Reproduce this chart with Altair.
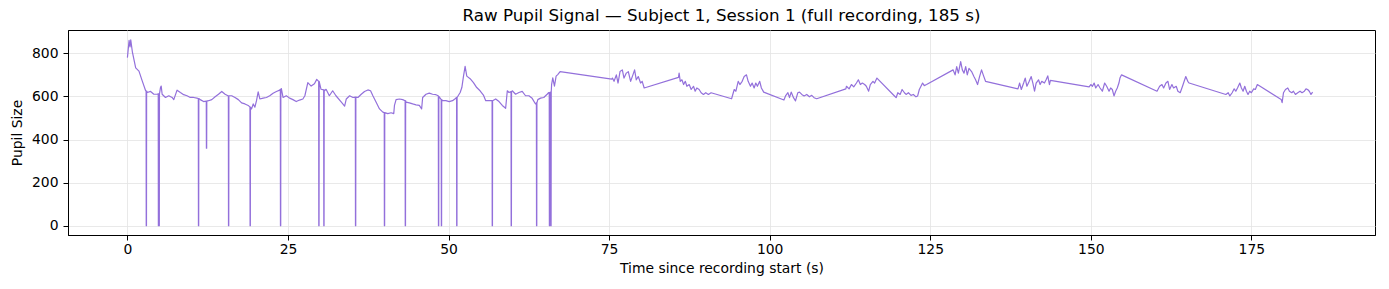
import altair as alt
import pandas as pd

# continuous trace (time in s, pupil size)
trace_t = [
    0.00, 0.26, 0.41, 0.52, 0.77, 1.29, 1.80, 2.32, 2.84, 3.09, 3.61, 4.12, 4.64,
    5.15, 5.26, 5.41, 5.93, 6.44, 6.96, 7.22, 7.73, 8.25, 8.76, 9.28, 9.79, 10.31,
    10.82, 11.34, 11.86, 12.63, 13.14, 13.66, 14.18, 14.69, 15.21, 15.65, 16.24,
    16.75, 17.27, 17.78, 18.30, 18.81, 19.33, 19.59, 19.85, 20.10, 20.36, 20.62,
    21.13, 21.65, 22.16, 22.68, 23.20, 23.71, 23.97, 24.23, 24.74, 25.26, 25.77,
    26.29, 26.80, 27.32, 27.63, 28.09, 28.61, 29.12, 29.48, 29.90, 30.15, 30.67,
    30.93, 31.44, 31.96, 32.47, 33.31, 33.82, 34.08, 34.60, 35.12, 35.89, 36.41,
    36.92, 37.44, 37.86, 38.22, 38.73, 39.25, 39.77, 40.54, 41.06, 41.47, 41.58,
    41.83, 42.35, 42.87, 43.39, 43.90, 44.42, 44.94, 45.45, 45.81, 45.97, 46.49,
    47.00, 47.52, 48.04, 48.40, 49.07, 49.59, 50.10, 50.62, 50.98, 51.50, 51.81,
    52.07, 52.33, 52.58, 52.84, 53.36, 53.88, 54.39, 54.91, 55.43, 55.79, 56.30,
    57.34, 57.86, 58.37, 58.89, 59.15, 59.41, 59.92, 60.44, 60.96, 61.47, 61.99,
    62.51, 63.02, 63.54, 63.90, 64.32, 64.83, 65.35, 65.61, 66.05, 66.23, 66.49,
    66.75, 67.00, 67.37,
    75.41, 75.52, 75.77, 76.13, 76.39, 76.70, 77.06, 77.32, 77.68, 77.99, 78.35,
    78.71, 78.97, 79.23, 79.54, 79.90, 80.15, 80.46,
    85.80, 85.90, 86.08, 86.34, 86.60, 86.86, 87.11, 87.47, 87.78, 88.14, 88.40,
    88.66, 89.02, 89.33, 89.69, 90.05, 90.46, 90.88,
    94.07, 94.48, 94.74, 95.10, 95.36, 95.72, 96.03, 96.39, 96.65, 97.01, 97.27,
    97.58, 97.84, 98.09, 98.45, 98.71, 99.07,
    102.22, 102.47, 102.84, 103.09, 103.35, 103.71, 104.02, 104.38, 104.64, 105.00,
    105.36, 105.77, 106.19, 106.55, 106.91, 107.32,
    111.86, 111.96, 112.37, 112.73, 113.09, 113.51, 113.81, 114.12, 114.43, 114.79,
    115.05, 115.41, 115.67, 116.08, 116.34, 116.70,
    119.43, 119.69, 119.95, 120.31, 120.62, 120.98, 121.24, 121.60, 122.01, 122.37,
    122.78, 123.04, 123.30, 123.56, 123.81, 124.07, 124.43,
    128.56, 128.87, 129.12, 129.38, 129.74, 130.00, 130.26, 130.52, 130.77, 131.03,
    131.44, 131.80, 132.06, 132.37, 132.68, 132.99, 133.25, 133.61,
    138.66, 138.92, 139.18, 139.54, 139.79, 140.05, 140.41, 140.72, 140.98, 141.24,
    141.49, 141.86, 142.11, 142.37, 142.78, 143.04, 143.30, 143.56, 143.71,
    149.74, 150.00, 150.26, 150.52, 150.77, 151.13, 151.44, 151.80, 152.16, 152.47,
    152.84, 153.09, 153.35, 153.61, 153.87, 154.12, 154.38, 154.54, 154.79,
    160.31, 160.72, 161.08, 161.34, 161.70, 162.01, 162.27, 162.63, 162.89, 163.30,
    163.56, 163.92, 164.28, 164.54, 164.79, 165.10, 165.31,
    171.03, 171.39, 171.65, 172.01, 172.32, 172.58, 172.84, 173.20, 173.45, 173.71,
    173.97, 174.23, 174.48, 174.74, 175.00, 175.36, 175.62, 175.93,
    179.64, 179.79, 180.00, 180.31, 180.67, 180.93, 181.29, 181.55, 181.86, 182.22,
    182.58, 182.89, 183.25, 183.51, 183.76, 184.02, 184.28, 184.54,
]
trace_v = [
    780, 860, 830, 862, 807, 732, 717, 671, 626, 618, 623, 610, 610,
    641, 648, 610, 595, 603, 595, 585, 629, 618, 608, 603, 595, 595,
    592, 585, 576, 580, 585, 598, 610, 623, 610, 603, 603,
    595, 585, 570, 565, 558, 542, 565, 550, 580, 621, 588,
    592, 595, 603, 615, 623, 629, 636, 595, 603, 592, 585,
    576, 583, 588, 603, 664, 648, 659, 679, 664, 633, 626,
    633, 603, 626, 603, 573, 555, 588, 603, 595, 595, 610,
    623, 630, 626, 603, 573, 542, 527, 520, 524, 520, 558,
    585, 588, 585, 573, 570, 565, 561, 558, 542, 595, 610,
    615, 610, 608, 603, 580, 580, 576, 580, 588, 603, 618,
    641, 694, 739, 694, 682, 664, 641, 626, 606, 580, 580,
    588, 576, 558, 545, 626, 618, 626, 610, 618, 623, 603,
    603, 591, 565, 585, 592, 595, 610, 618, 656, 686, 648,
    694, 701, 715,
    680, 685, 670, 700, 662, 715, 723, 685, 708, 715, 670,
    700, 723, 677, 692, 662, 670, 639,
    688, 708, 670, 677, 655, 670, 647, 655, 632, 647, 624,
    639, 632, 617, 609, 617, 609, 617,
    589, 632, 624, 670, 655, 670, 692, 700, 670, 647, 662,
    639, 662, 647, 670, 639, 620,
    583, 602, 617, 594, 620, 594, 579, 617, 620, 609,
    602, 609, 598, 605, 594, 589,
    635, 647, 635, 655, 644, 662, 677, 655, 662, 655,
    647, 624, 655, 670, 662, 685,
    602, 594, 617, 609, 632, 617, 609, 617, 605, 609,
    598, 602, 632, 647, 662, 650, 655,
    723, 700, 738, 708, 761, 723, 708, 738, 700, 730,
    715, 692, 677, 655, 692, 723, 700, 670,
    635, 662, 632, 662, 685, 647, 670, 692, 662, 624,
    662, 677, 655, 670, 662, 677, 695, 655, 674,
    644, 655, 647, 662, 639, 655, 639, 624, 662, 647,
    624, 639, 632, 602, 624, 639, 662, 685, 700,
    624, 647, 655, 639, 662, 670, 632, 655, 639, 647,
    624, 617, 647, 670, 692, 670, 662,
    609, 617, 602, 617, 635, 624, 639, 662, 639, 624,
    647, 624, 609, 624, 617, 635, 632, 655,
    586, 571, 617, 632, 639, 624, 617, 624, 609, 617,
    624, 617, 624, 635, 632, 624, 609, 620,
]

# blinks / dropouts: onset time, signal level around it, lowest value reached
blink_t = [2.93, 4.82, 4.93, 11.06, 12.30, 15.74, 19.10, 23.83, 29.80, 30.58,
           35.51, 40.01, 43.26, 48.43, 48.88, 51.27, 56.80, 59.75, 63.70, 65.70, 65.93]
blink_level = [625, 612, 612, 590, 578, 603, 550, 632, 670, 630,
               597, 525, 580, 600, 585, 595, 580, 622, 570, 618, 620]
blink_floor = [0, 0, 0, 0, 360, 0, 0, 0, 0, 0,
               0, 0, 0, 0, 0, 0, 0, 0, 0, 0, 0]

x_ticks = [0, 25, 50, 75, 100, 125, 150, 175]
y_ticks = [0, 200, 400, 600, 800]

rows = [{"t": t, "v": v} for t, v in zip(trace_t, trace_v)]
for t, lvl, fl in zip(blink_t, blink_level, blink_floor):
    rows += [{"t": t - 0.02, "v": lvl}, {"t": t, "v": fl},
             {"t": t + 0.04, "v": fl}, {"t": t + 0.06, "v": lvl}]
df = pd.DataFrame(rows).sort_values("t").reset_index(drop=True)

chart = alt.Chart(df).mark_line(color="#9370DB", strokeWidth=1.2, strokeJoin="round").encode(
    x=alt.X("t:Q", title="Time since recording start (s)",
            scale=alt.Scale(domain=[-9.25, 194.25], nice=False, zero=False),
            axis=alt.Axis(values=x_ticks, format="d")),
    y=alt.Y("v:Q", title="Pupil Size",
            scale=alt.Scale(domain=[-43, 908], nice=False, zero=False),
            axis=alt.Axis(values=y_ticks, format="d")),
    order="t:Q",
).properties(
    width=1307, height=205,
    title=alt.TitleParams("Raw Pupil Signal — Subject 1, Session 1 (full recording, 185 s)",
                          fontSize=16.7, fontWeight="normal", font="DejaVu Sans",
                          color="black", offset=5, anchor="middle"),
    autosize=alt.AutoSizeParams(type="none"),
    padding={"left": 68, "top": 30, "right": 14, "bottom": 54},
).configure_view(
    stroke="black", strokeWidth=1
).configure_axis(
    labelFont="DejaVu Sans", titleFont="DejaVu Sans",
    labelFontSize=13.9, titleFontSize=13.9, titleFontWeight="normal",
    labelColor="black", titleColor="black",
    tickColor="black", domainColor="black", tickSize=5,
    gridColor="#e3e3e3", gridWidth=0.8, domain=True,
).configure_axisX(labelPadding=2, titlePadding=6).configure_axisY(labelPadding=5, titlePadding=7)

chart.save("out.html", embed_options={"renderer": "svg", "actions": False})
